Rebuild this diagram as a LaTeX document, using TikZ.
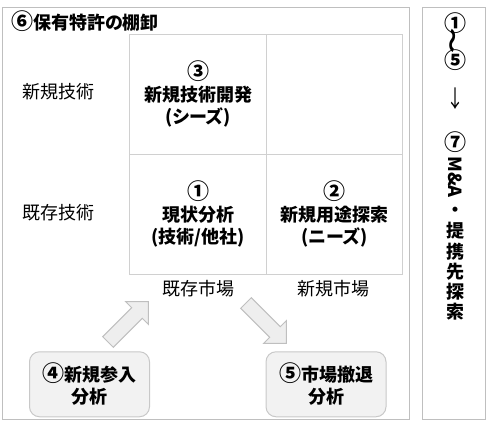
\documentclass[tikz,border=0pt]{standalone}
\usepackage{fontspec}
\setmainfont{Noto Sans CJK JP}[RawFeature=+palt]
\newfontfamily\cnfont{Noto Sans CJK JP}
\newcommand{\cnum}[1]{{\cnfont\fontsize{22}{22}\selectfont #1}}
\definecolor{frameC}{HTML}{BFBFBF}
\definecolor{gridC}{HTML}{D0D0D0}
\definecolor{boxF}{HTML}{F2F2F2}
\definecolor{boxD}{HTML}{C8C8C8}
\definecolor{arrF}{HTML}{EEEEEE}
\begin{document}
\begin{tikzpicture}[x=1pt,y=-1pt,
  frameline/.style={draw=frameC, line width=1pt},
  gridline/.style={draw=gridC, line width=1pt},
  lbl/.style={font=\fontsize{18}{22}\selectfont, inner sep=0pt, align=center},
  blbl/.style={font=\fontsize{18}{22}\selectfont\bfseries, inner sep=0pt, align=center},
  rbox/.style={blbl, draw=boxD, fill=boxF, line width=1pt, rounded corners=10pt, minimum width=120pt, minimum height=65pt},
  blockarrow/.style={draw=frameC, fill=arrF, line width=1pt}
]
\useasboundingbox (0,0) rectangle (486,421);
% frames
\draw[frameline] (2.5,7.5) rectangle (409.5,419);
\draw[frameline] (422.5,7.5) rectangle (485,419);
% title
\node[blbl, anchor=west] (title) at (11,21) {\cnum{⑥}保有特許の棚卸};
% grid
\draw[gridline] (129.5,34.5) rectangle (402.5,274.5);
\draw[gridline] (266.5,34.5) -- (266.5,274.5);
\draw[gridline] (129.5,154.5) -- (402.5,154.5);
% cells
\node[blbl] (c3) at (198,94) {\cnum{③}\\新規技術開発\\(シーズ)};
\node[blbl] (c1) at (198,214) {\cnum{①}\\現状分析\\(技術/他社)};
\node[blbl] (c2) at (334.5,214) {\cnum{②}\\新規用途探索\\(ニーズ)};
% axis labels
\node[lbl] (r1) at (58.5,92) {新規技術};
\node[lbl] (r2) at (58.5,213) {既存技術};
\node[lbl] (k1) at (198,289) {既存市場};
\node[lbl] (k2) at (333.5,289) {新規市場};
% bottom boxes
\node[rbox] (b4) at (89.5,384.25) {\cnum{④}新規参入\\分析};
\node[rbox] (b5) at (326,384.25) {\cnum{⑤}市場撤退\\分析};
% block arrows
\begin{scope}[shift={(108,342)}, rotate=45]
  \draw[blockarrow] (0,7.5) -- (41,7.5) -- (41,16) -- (57,0) -- (41,-16) -- (41,-7.5) -- (0,-7.5) -- cycle;
\end{scope}
\begin{scope}[shift={(246,303)}, rotate=-45]
  \draw[blockarrow] (0,7.5) -- (41,7.5) -- (41,16) -- (57,0) -- (41,-16) -- (41,-7.5) -- (0,-7.5) -- cycle;
\end{scope}
% right column
\node[blbl] (v1) at (455,22.7) {\cnum{①}};
\node[blbl, rotate=90, xscale=1.4] (vw) at (455,41) {～};
\node[blbl] (v5) at (455,60) {\cnum{⑤}};
\node[lbl, yscale=1.3] (va) at (455,99) {↓};
\node[blbl] (v7) at (455,141.7) {\cnum{⑦}};
\node[blbl, rotate=-90] (vm) at (455,177) {M\&A};
\node[blbl] (vd) at (455,212) {・};
\node[blbl] (vt1) at (455,231) {提};
\node[blbl] (vt2) at (455,251.5) {携};
\node[blbl] (vt3) at (455,271.5) {先};
\node[blbl] (vt4) at (455,292) {探};
\node[blbl] (vt5) at (455,312) {索};
\end{tikzpicture}
\end{document}
